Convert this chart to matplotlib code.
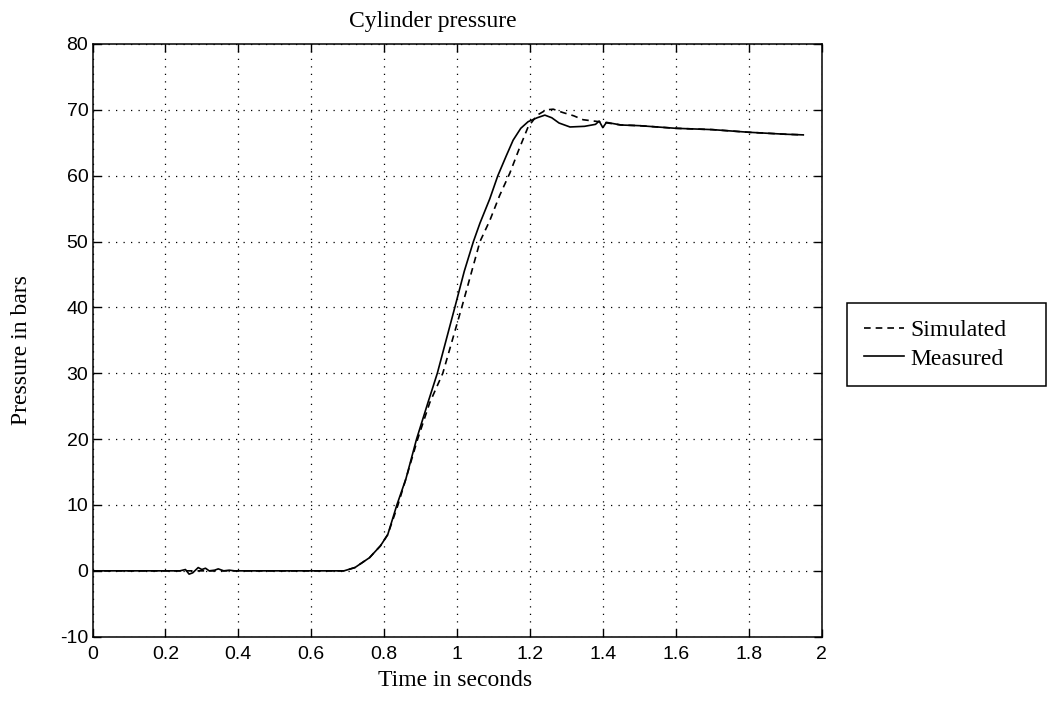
import matplotlib
matplotlib.use('Agg')
import matplotlib.pyplot as plt

# measured cylinder pressure (solid)
t_meas = [0.0, 0.24, 0.255, 0.265, 0.275, 0.29, 0.30, 0.31, 0.32, 0.335, 0.345, 0.36, 0.375, 0.39,
          0.69, 0.72, 0.76, 0.79, 0.81, 0.835, 0.86, 0.889, 0.92, 0.946, 0.97, 0.994, 1.02, 1.045,
          1.063, 1.09, 1.112, 1.135, 1.154, 1.175, 1.195, 1.22, 1.241, 1.26, 1.28, 1.31, 1.35,
          1.38, 1.39, 1.40, 1.41, 1.45, 1.5, 1.6, 1.7, 1.8, 1.9, 1.95]
p_meas = [0.0, 0.0, 0.2, -0.5, -0.3, 0.5, 0.2, 0.4, 0.0, 0.1, 0.3, 0.0, 0.1, 0.0,
          0.0, 0.5, 2.0, 3.8, 5.5, 10.0, 14.0, 20.0, 25.5, 30.0, 35.0, 40.0, 45.5, 50.0,
          52.8, 56.5, 60.0, 63.0, 65.4, 67.2, 68.2, 68.8, 69.2, 68.8, 68.0, 67.4, 67.5,
          67.8, 68.3, 67.3, 68.1, 67.7, 67.6, 67.2, 67.0, 66.6, 66.3, 66.2]

# simulated cylinder pressure (dashed)
t_sim = [0.0, 0.69, 0.72, 0.76, 0.79, 0.81, 0.838, 0.86, 0.892, 0.925, 0.961, 0.987, 1.013,
         1.038, 1.063, 1.09, 1.117, 1.145, 1.17, 1.195, 1.22, 1.245, 1.264, 1.29, 1.32, 1.346,
         1.39, 1.45, 1.5, 1.6, 1.7, 1.8, 1.9, 1.95]
p_sim = [0.0, 0.0, 0.5, 2.0, 3.8, 5.5, 10.0, 14.0, 20.0, 25.5, 30.0, 35.0, 40.0,
         45.0, 50.0, 53.2, 57.0, 60.4, 64.0, 67.4, 69.2, 70.0, 70.1, 69.6, 69.1, 68.5,
         68.2, 67.7, 67.6, 67.2, 67.0, 66.6, 66.3, 66.2]

x_ticks = [0, 0.2, 0.4, 0.6, 0.8, 1, 1.2, 1.4, 1.6, 1.8, 2]
x_labels = ['0', '0.2', '0.4', '0.6', '0.8', '1', '1.2', '1.4', '1.6', '1.8', '2']
y_ticks = [-10, 0, 10, 20, 30, 40, 50, 60, 70, 80]
y_labels = ['-10', '0', '10', '20', '30', '40', '50', '60', '70', '80']

serif = ['Liberation Serif', 'DejaVu Serif']
sans = ['Liberation Sans', 'DejaVu Sans']

fig = plt.figure(figsize=(10.48, 7.02), dpi=100)
ax = fig.add_axes([92.5 / 1048, 1 - 636.7 / 702, 729 / 1048, (636.7 - 44) / 702])

ax.plot(t_sim, p_sim, color='black', linestyle=(0, (4, 3)), linewidth=1.2, label='Simulated')
ax.plot(t_meas, p_meas, color='black', linestyle='-', linewidth=1.2, label='Measured')

ax.set_xlim(0, 2)
ax.set_ylim(-10, 80)
ax.set_xticks(x_ticks)
ax.set_xticklabels(x_labels)
ax.set_yticks(y_ticks)
ax.set_yticklabels(y_labels)
for lab in ax.get_xticklabels() + ax.get_yticklabels():
    lab.set_family(sans)
    lab.set_fontsize(14)
ax.tick_params(direction='in', top=True, right=True, length=6, width=1)
ax.tick_params(axis='x', pad=7)
ax.tick_params(axis='y', pad=3)
ax.grid(True, color='black', linestyle=(0, (1, 5)), linewidth=0.9)
for s in ax.spines.values():
    s.set_linewidth(1.1)

fig.text(433 / 1048, 1 - 22 / 702, 'Cylinder pressure', family=serif, fontsize=17,
         ha='center', va='center')
fig.text(455 / 1048, 1 - 681 / 702, 'Time in seconds', family=serif, fontsize=17,
         ha='center', va='center')
fig.text(22 / 1048, 1 - 350 / 702, 'Pressure in bars', family=serif, fontsize=17,
         ha='center', va='center', rotation=90)

leg = fig.legend(loc='upper left', bbox_to_anchor=(847 / 1048, 1 - 303 / 702, 199 / 1048, 0.0),
                 mode='expand', prop={'family': serif, 'size': 17}, frameon=True,
                 fancybox=False, edgecolor='black', framealpha=1, handlelength=1.7,
                 handletextpad=0.3, labelspacing=0.3, borderpad=0.7, borderaxespad=0)
leg.get_frame().set_linewidth(1.1)

fig.savefig('out.png', dpi=100)
plt.close(fig)
